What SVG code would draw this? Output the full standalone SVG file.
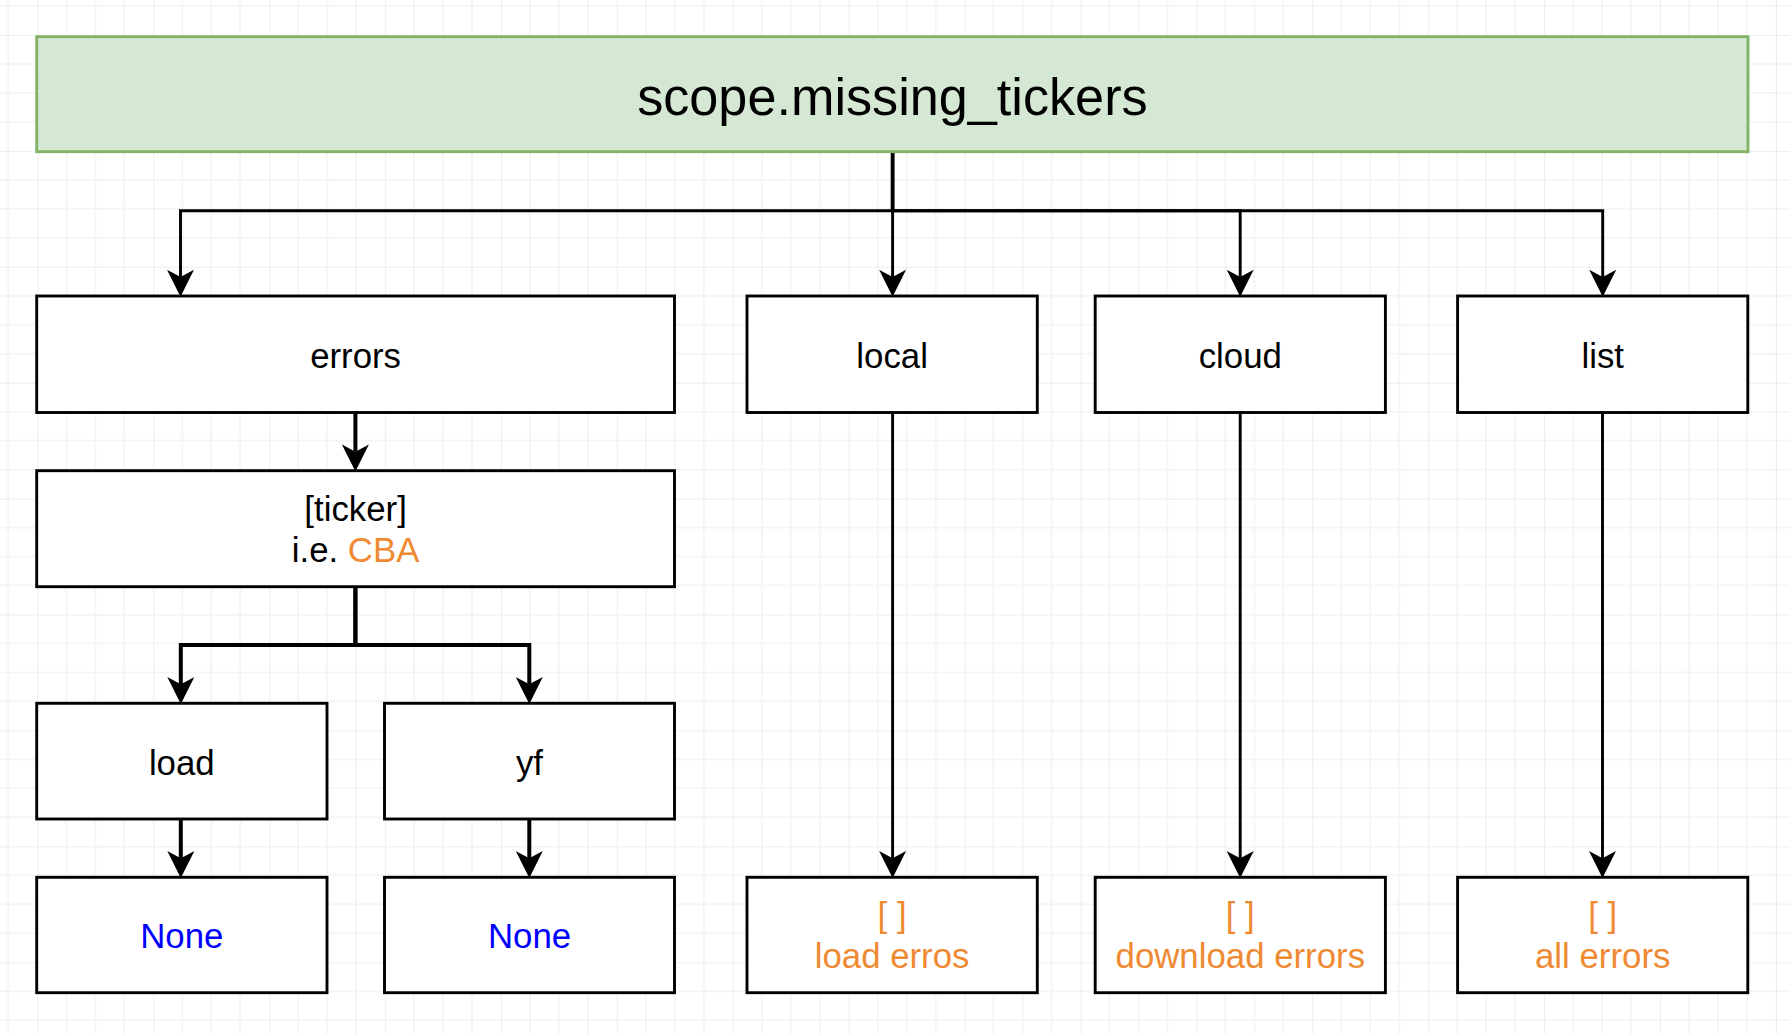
<svg xmlns="http://www.w3.org/2000/svg" width="1790" height="1034" viewBox="0 0 1790 1034">
  <defs>
    <pattern id="grid" patternUnits="userSpaceOnUse" x="37.4" y="35" width="115.9" height="115.9">
      <path d="M28.975,0 V115.9 M57.95,0 V115.9 M86.925,0 V115.9 M0,28.975 H115.9 M0,57.95 H115.9 M0,86.925 H115.9" stroke="#f2f2f2" stroke-width="1.5" fill="none"/>
      <path d="M0,0 V115.9 M0,0 H115.9" stroke="#e8e8e8" stroke-width="1.5" fill="none"/>
    </pattern>
    <marker id="arr" markerUnits="userSpaceOnUse" markerWidth="27" markerHeight="27" viewBox="0 0 26 26" refX="7" refY="13" orient="auto">
      <path d="M26,13 L0,0 L7,13 L0,26 Z" fill="#000"/>
    </marker>
  </defs>
  <style>
    .box { fill: #ffffff; stroke: #000000; stroke-width: 2.9; }
    .root { fill: #d5e8d4; stroke: #82b366; stroke-width: 2.9; }
    .t { font-family: "Liberation Sans", Arial, Helvetica, sans-serif; font-size: 34.8px; fill: #000000; text-anchor: middle; }
    .title { font-size: 52.2px; }
    .or { fill: #ef8a33; }
    .bl { fill: #0000ff; }
    .e { fill: none; stroke: #000000; stroke-width: 2.9; marker-end: url(#arr); }
    .ek { stroke-width: 4; }
  </style>
  <rect x="0" y="0" width="1790" height="1034" fill="#ffffff"/>
  <rect x="0" y="0" width="1790" height="1034" fill="url(#grid)"/>

  <g id="connectors">
    <path class="e" d="M892.6,151.7 V210.7 H180.5 V277"/>
    <path class="e" d="M892.6,151.7 V277"/>
    <path class="e" d="M892.6,151.7 V210.7 H1240.2 V277"/>
    <path class="e" d="M892.6,151.7 V210.7 H1602.7 V277"/>
    <path d="M892.6,151.7 V210.7" stroke="#000" stroke-width="3.8" fill="none"/>
    <path class="e ek" d="M355.4,412.5 V451.7"/>
    <path class="e ek" d="M355.4,586.7 V645 H180.8 V684.3"/>
    <path class="e ek" d="M355.4,586.7 V645 H529.3 V684.3"/>
    <path class="e ek" d="M180.8,819 V858.3"/>
    <path class="e ek" d="M529.3,819 V858.3"/>
    <path class="e" d="M892.6,412.5 V858.3"/>
    <path class="e" d="M1240.2,412.5 V858.3"/>
    <path class="e" d="M1602.5,412.5 V858.3"/>
  </g>

  <g id="node-root">
    <rect class="root" x="36.7" y="36.7" width="1711.3" height="115"/>
    <text class="t title" x="892.4" y="114.5">scope.missing_tickers</text>
  </g>
  <g id="node-errors">
    <rect class="box" x="36.7" y="296" width="637.8" height="116.5"/>
    <text class="t" x="355.6" y="367.5">errors</text>
  </g>
  <g id="node-local">
    <rect class="box" x="747" y="296" width="290.3" height="116.5"/>
    <text class="t" x="892.1" y="367.5">local</text>
  </g>
  <g id="node-cloud">
    <rect class="box" x="1095.2" y="296" width="290.2" height="116.5"/>
    <text class="t" x="1240.3" y="367.5">cloud</text>
  </g>
  <g id="node-list">
    <rect class="box" x="1457.6" y="296" width="290.2" height="116.5"/>
    <text class="t" x="1602.7" y="367.5">list</text>
  </g>
  <g id="node-ticker">
    <rect class="box" x="36.7" y="470.7" width="637.8" height="116"/>
    <text class="t" x="355.6" y="520.6">[ticker]</text>
    <text class="t" x="355.6" y="562.4">i.e. <tspan class="or">CBA</tspan></text>
  </g>
  <g id="node-load">
    <rect class="box" x="36.7" y="703.3" width="290.3" height="115.7"/>
    <text class="t" x="181.8" y="774.5">load</text>
  </g>
  <g id="node-yf">
    <rect class="box" x="384.5" y="703.3" width="290" height="115.7"/>
    <text class="t" x="529.5" y="774.5">yf</text>
  </g>
  <g id="node-none-load">
    <rect class="box" x="36.7" y="877.3" width="290.3" height="115.4"/>
    <text class="t bl" x="181.8" y="948.3">None</text>
  </g>
  <g id="node-none-yf">
    <rect class="box" x="384.5" y="877.3" width="290" height="115.4"/>
    <text class="t bl" x="529.5" y="948.3">None</text>
  </g>
  <g id="node-local-out">
    <rect class="box" x="747" y="877.3" width="290.3" height="115.4"/>
    <text class="t or" x="892.1" y="926.7">[ ]</text>
    <text class="t or" x="892.1" y="968.3">load erros</text>
  </g>
  <g id="node-cloud-out">
    <rect class="box" x="1095.2" y="877.3" width="290.2" height="115.4"/>
    <text class="t or" x="1240.3" y="926.7">[ ]</text>
    <text class="t or" x="1240.3" y="968.3">download errors</text>
  </g>
  <g id="node-list-out">
    <rect class="box" x="1457.6" y="877.3" width="290.2" height="115.4"/>
    <text class="t or" x="1602.7" y="926.7">[ ]</text>
    <text class="t or" x="1602.7" y="968.3">all errors</text>
  </g>
</svg>
